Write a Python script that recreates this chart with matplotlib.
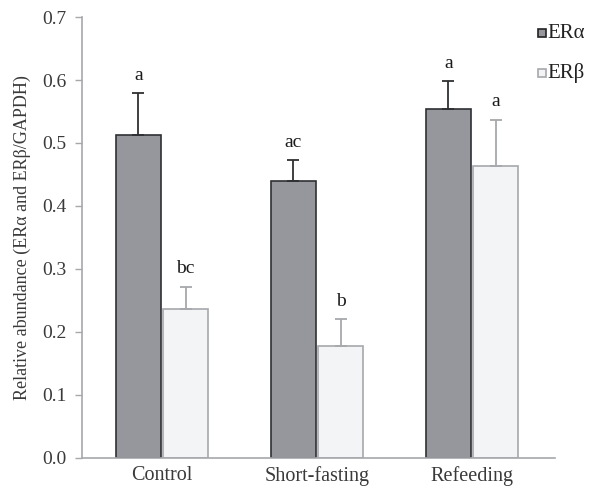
import matplotlib
matplotlib.use("Agg")
import matplotlib.pyplot as plt
import numpy as np
from matplotlib.patches import Rectangle

plt.rcParams["font.family"] = ["Liberation Serif", "DejaVu Serif"]

groups = ["Control", "Short-fasting", "Refeeding"]
er_alpha = [0.512, 0.439, 0.554]
er_alpha_err = [0.067, 0.034, 0.044]
er_beta = [0.237, 0.178, 0.464]
er_beta_err = [0.035, 0.042, 0.073]
alpha_letters = ["a", "ac", "a"]
beta_letters = ["bc", "b", "a"]
yticks = [0.0, 0.1, 0.2, 0.3, 0.4, 0.5, 0.6, 0.7]

dark_fill = "#95979c"
dark_edge = "#2e3033"
light_fill = "#f2f4f5"
light_edge = "#a6a8ab"
axis_col = "#a6a8ab"
text_col = "#3a3a3a"

fig = plt.figure(figsize=(5.91, 4.87), dpi=100)
ax = fig.add_axes([0.139, 0.06, 0.8, 0.905])

x = np.arange(len(groups))
w = 0.295
off = 0.152

ax.bar(x - off, er_alpha, w, color=dark_fill, edgecolor=dark_edge, linewidth=1.2,
       yerr=[np.zeros(3), er_alpha_err], error_kw=dict(ecolor=dark_edge, elinewidth=1.3, capsize=4, capthick=1.3),
       label="ERα", zorder=2)
ax.bar(x + off, er_beta, w, color=light_fill, edgecolor=light_edge, linewidth=1.2,
       yerr=[np.zeros(3), er_beta_err], error_kw=dict(ecolor=light_edge, elinewidth=1.3, capsize=4, capthick=1.3),
       label="ERβ", zorder=2)

for i in range(len(groups)):
    ax.text(x[i] - off, er_alpha[i] + er_alpha_err[i] + 0.015, alpha_letters[i],
            ha="center", va="bottom", fontsize=14, color="#1a1a1a")
    ax.text(x[i] + off, er_beta[i] + er_beta_err[i] + 0.015, beta_letters[i],
            ha="center", va="bottom", fontsize=14, color="#1a1a1a")

ax.set_xlim(-0.515, 2.535)
ax.set_ylim(0, 0.7)
ax.set_yticks(yticks)
ax.set_yticklabels([f"{t:.1f}" for t in yticks])
ax.set_xticks(x)
ax.set_xticklabels(groups)
ax.tick_params(axis="x", length=0, labelsize=14.5, colors=text_col, pad=6)
ax.tick_params(axis="y", length=5, width=1, color=axis_col, labelsize=14, labelcolor=text_col, pad=6)
for s in ["top", "right"]:
    ax.spines[s].set_visible(False)
for s in ["left", "bottom"]:
    ax.spines[s].set_color(axis_col)
    ax.spines[s].set_linewidth(1.2)

ax.set_ylabel("Relative abundance (ERα and ERβ/GAPDH)", fontsize=13, color=text_col, labelpad=8)

# legend as small squares top right
for lbl, fc, ec, yy in [("ERα", dark_fill, "#222222", 0.932), ("ERβ", light_fill, light_edge, 0.85)]:
    fig.patches.append(Rectangle((0.911, yy - 0.008), 0.0135, 0.016, transform=fig.transFigure,
                                 facecolor=fc, edgecolor=ec, linewidth=1.2))
    fig.text(0.926, yy, lbl, ha="left", va="center", fontsize=15, color="#222222")

fig.savefig("out.png", dpi=100)
